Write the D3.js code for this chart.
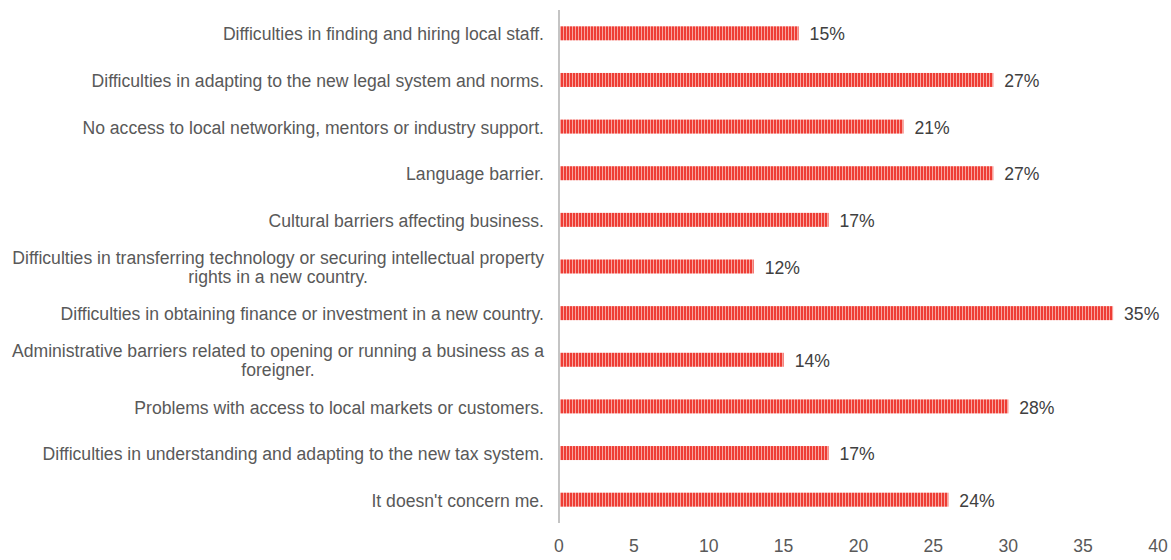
<!DOCTYPE html>
<html>
<head>
<meta charset="utf-8">
<script src="https://cdn.jsdelivr.net/npm/d3@7"></script>
<style>
  html, body { margin: 0; padding: 0; background: #fff; }
  svg { display: block; font-family: "Liberation Sans", Arial, sans-serif; }
</style>
</head>
<body>
<svg id="chart" width="1171" height="560"></svg>
<script>
// Answers to "What difficulties did you face?" (number of respondents, multiple choice)
const categories = [
  "Difficulties in finding and hiring local staff.",
  "Difficulties in adapting to the new legal system and norms.",
  "No access to local networking, mentors or industry support.",
  "Language barrier.",
  "Cultural barriers affecting business.",
  "Difficulties in transferring technology or securing intellectual property|rights in a new country.",
  "Difficulties in obtaining finance or investment in a new country.",
  "Administrative barriers related to opening or running a business as a|foreigner.",
  "Problems with access to local markets or customers.",
  "Difficulties in understanding and adapting to the new tax system.",
  "It doesn't concern me."
];
const counts = [16, 29, 23, 29, 18, 13, 37, 15, 30, 18, 26];
const totalRespondents = 107;
const percentLabels = counts.map(c => Math.round(c / totalRespondents * 100) + "%");
const xTicks = [0, 5, 10, 15, 20, 25, 30, 35, 40];

const svg = d3.select("#chart");
const plotLeft = 559, plotRight = 1158, plotTop = 10, plotBottom = 523;
const fontSize = 17.6;

const x = d3.scaleLinear().domain([0, 40]).range([plotLeft, plotRight]);
const y = d3.scaleBand().domain(d3.range(categories.length)).range([plotTop, plotBottom]).paddingInner(0.7).paddingOuter(0.35);

// striped fill for the bars
const defs = svg.append("defs");
const pat = defs.append("pattern")
  .attr("id", "stripes")
  .attr("patternUnits", "userSpaceOnUse")
  .attr("width", 3).attr("height", 10);
pat.append("rect").attr("width", 3).attr("height", 10).attr("fill", "#ee3d35");
pat.append("rect").attr("x", 2).attr("width", 1).attr("height", 10).attr("fill", "#f8a59f");

// labels are clipped to the chart area
defs.append("clipPath").attr("id", "labelClip")
  .append("rect").attr("x", 10).attr("y", 0).attr("width", 1161).attr("height", 560);

// bars
svg.append("g").selectAll("rect")
  .data(counts)
  .join("rect")
  .attr("x", x(0) + 1)
  .attr("y", (d, i) => y(i))
  .attr("width", d => x(d) - x(0) - 1)
  .attr("height", y.bandwidth())
  .attr("fill", "url(#stripes)");

// value labels
svg.append("g").selectAll("text")
  .data(counts)
  .join("text")
  .attr("x", d => x(d) + 11)
  .attr("y", (d, i) => y(i) + y.bandwidth() / 2 + 1)
  .attr("dy", "0.35em")
  .attr("font-size", fontSize)
  .attr("fill", "#404040")
  .text((d, i) => percentLabels[i]);

// category labels (wrapped lines centred on the widest line)
const labelRight = 544;
const lineH = 19;
const catG = svg.append("g").attr("clip-path", "url(#labelClip)");
categories.forEach((c, i) => {
  const lines = c.split("|");
  const cy = y(i) + y.bandwidth() / 2 + 1;
  const t = catG.append("text")
    .attr("font-size", fontSize)
    .attr("fill", "#595959");
  const spans = lines.map((ln, k) => t.append("tspan")
    .attr("y", cy + (k - (lines.length - 1) / 2) * lineH)
    .attr("dy", "0.35em")
    .text(ln));
  const widths = spans.map(s => s.node().getComputedTextLength());
  const maxW = d3.max(widths);
  const centre = labelRight - maxW / 2;
  spans.forEach(s => {
    if (lines.length === 1) {
      s.attr("x", labelRight).attr("text-anchor", "end");
    } else {
      s.attr("x", centre).attr("text-anchor", "middle");
    }
  });
});

// x axis tick labels
svg.append("g").selectAll("text")
  .data(xTicks)
  .join("text")
  .attr("x", d => x(d))
  .attr("y", 546)
  .attr("dy", "0.35em")
  .attr("text-anchor", "middle")
  .attr("font-size", fontSize)
  .attr("fill", "#595959")
  .text(d => d);

// category axis line
svg.append("line")
  .attr("x1", x(0)).attr("x2", x(0))
  .attr("y1", plotTop).attr("y2", plotBottom)
  .attr("stroke", "#c4c4c4")
  .attr("stroke-width", 2);
</script>
</body>
</html>
